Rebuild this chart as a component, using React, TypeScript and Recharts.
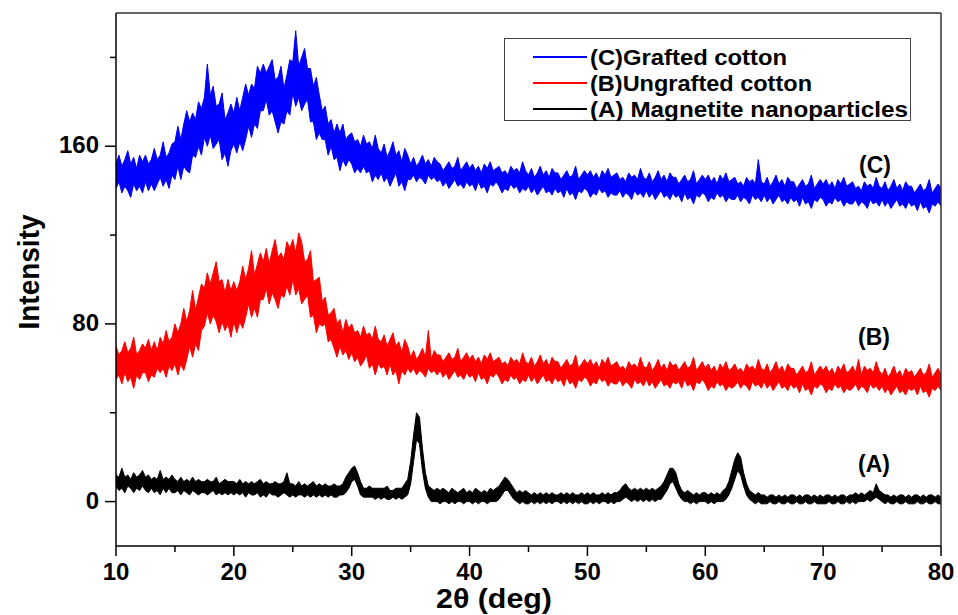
import React from 'react';
import { ComposedChart, Area, XAxis, YAxis, ReferenceLine, Legend, Customized } from 'recharts';

// 2θ sampling grid of the traces (deg)
const ANGLE_START = 10;
const ANGLE_STEP = 0.25;

// (C) Grafted cotton – upper / lower edge of the blue noise band
const graftedUpper = [
  152,156,151,154,158,152,155,150,156,153,
  156,152,154,159,154,156,162,155,157,161,
  162,169,163,170,176,171,175,172,180,177,
  182,197,183,187,178,179,184,172,175,179,
  175,182,176,182,188,183,188,186,196,193,
  197,193,196,199,190,191,196,186,192,199,
  198,212,196,200,204,195,195,187,191,183,
  176,178,170,172,166,170,166,170,163,165,
  166,162,163,160,165,161,162,159,165,159,
  157,161,155,158,162,156,158,153,159,156,
  152,155,151,153,156,152,154,151,155,153,
  152,149,151,153,150,151,155,149,151,153,
  150,152,149,151,148,152,150,153,149,150,
  151,148,149,147,151,149,150,148,153,149,
  147,150,146,148,151,147,149,146,150,148,
  148,145,147,149,146,147,151,145,147,149,
  147,149,146,148,145,149,147,150,146,147,
  148,145,146,144,148,146,147,145,150,146,
  145,148,144,146,149,145,147,144,148,146,
  146,143,145,147,144,145,149,143,145,147,
  145,147,144,146,143,147,145,148,144,145,
  146,143,144,142,146,144,145,143,154,144,
  143,146,142,144,147,143,145,142,146,144,
  144,141,143,145,142,143,147,141,143,145,
  143,145,142,144,141,145,143,146,142,143,
  144,141,142,140,144,142,143,141,146,142,
  141,144,140,142,145,141,143,140,144,142,
  142,139,141,143,140,141,145,139,141,143,
  141,
];
const graftedLower = [
  141,144,139,142,140,137,143,140,142,139,
  144,140,143,140,143,146,142,145,141,147,
  145,151,145,151,149,148,156,155,160,156,
  164,160,165,159,161,163,154,157,151,158,
  161,157,162,158,163,169,164,170,168,176,
  176,181,174,176,171,166,171,170,176,174,
  184,178,182,176,179,181,171,171,163,166,
  163,163,156,160,154,155,149,154,151,154,
  152,148,150,148,151,148,149,144,147,145,
  148,144,146,142,145,148,142,144,140,145,
  145,147,144,146,145,143,147,145,146,144,
  145,142,144,141,143,145,142,143,141,144,
  142,143,140,144,141,142,139,143,142,144,
  142,139,141,140,143,141,142,139,141,140,
  142,139,141,138,140,142,139,140,138,141,
  139,140,137,141,138,139,136,140,139,141,
  140,137,139,138,141,139,140,137,139,138,
  138,140,137,139,138,136,140,138,139,137,
  140,137,139,136,138,140,137,138,136,139,
  137,138,135,139,136,137,134,138,137,139,
  138,135,137,136,139,137,138,135,137,136,
  136,138,135,137,136,134,138,136,137,135,
  138,135,137,134,136,138,135,136,134,137,
  135,136,133,137,134,135,132,136,135,137,
  136,133,135,134,137,135,136,133,135,134,
  134,136,133,135,134,132,136,134,135,133,
  136,133,135,132,134,136,133,134,132,135,
  133,134,131,135,132,133,130,134,133,135,
  133,
];

// (B) Ungrafted cotton – upper / lower edge of the red noise band
const ungraftedUpper = [
  70,66,68,72,67,69,74,66,68,71,
  69,73,68,72,68,74,71,77,72,74,
  80,76,80,87,81,86,95,86,92,98,
  96,103,98,103,108,99,100,94,100,95,
  99,95,99,106,100,105,113,102,107,112,
  108,114,107,113,118,110,112,109,117,114,
  118,112,121,117,108,109,113,99,100,101,
  90,92,84,85,87,80,82,76,82,78,
  80,76,77,74,79,75,76,73,79,73,
  72,75,70,73,76,70,72,67,73,70,
  65,68,64,66,69,65,77,64,68,66,
  66,63,65,67,64,65,69,63,65,67,
  64,66,63,65,62,66,64,67,63,64,
  65,62,63,61,65,63,64,62,67,63,
  62,65,61,63,66,62,64,61,65,63,
  63,60,62,64,61,62,66,60,62,64,
  62,64,61,63,60,64,62,65,61,62,
  63,60,61,59,63,61,62,60,65,61,
  60,63,59,61,64,60,62,59,63,61,
  62,59,61,63,60,61,65,59,61,63,
  60,62,59,61,58,62,60,63,59,60,
  62,59,60,58,62,60,61,59,64,60,
  59,62,58,60,63,59,61,58,62,60,
  60,57,59,61,58,59,63,57,59,61,
  59,61,58,60,57,61,59,62,58,59,
  61,58,64,57,61,59,60,58,63,59,
  57,60,56,58,61,57,59,56,60,58,
  59,56,58,60,57,58,62,56,58,60,
  57,
];
const ungraftedLower = [
  55,57,53,58,54,56,51,57,55,58,
  58,54,57,56,60,58,60,56,61,59,
  62,57,62,59,64,70,65,71,68,77,
  79,85,80,84,81,76,81,77,80,74,
  81,76,81,78,83,89,83,87,83,91,
  91,96,89,94,91,87,93,92,97,93,
  100,93,96,89,91,93,83,84,76,80,
  79,80,72,73,69,65,70,66,68,64,
  67,63,65,61,63,66,60,62,57,62,
  60,61,57,62,57,59,53,59,57,60,
  58,60,57,59,58,56,60,58,59,57,
  59,56,58,55,57,59,56,57,55,58,
  56,57,54,58,55,56,53,57,56,58,
  56,53,55,54,57,55,56,53,55,54,
  57,54,56,53,55,57,54,55,53,56,
  54,55,52,56,53,54,51,55,54,56,
  55,52,54,53,56,54,55,52,54,53,
  53,55,52,54,53,51,55,53,54,52,
  55,52,54,51,53,55,52,53,51,54,
  53,54,51,55,52,53,50,54,53,55,
  53,50,52,51,54,52,53,50,52,51,
  52,54,51,53,52,50,54,52,53,51,
  54,51,53,50,52,54,51,52,50,53,
  51,52,49,53,50,51,48,52,51,53,
  52,49,51,50,53,51,52,49,51,50,
  51,53,50,52,51,49,53,51,52,50,
  52,49,51,48,50,52,49,50,48,51,
  50,51,48,52,49,50,47,51,50,52,
  50,
];

// (A) Magnetite nanoparticles – upper / lower edge of the black trace
const magnetiteUpper = [
  12,11,15,11,12,10,13,11,12,14,
  11,12,10,11,10,14,10,11,10,12,
  10,9,11,9,10,9,11,9,10,9,
  9,10,9,9,11,8,9,10,9,9,
  9,8,10,8,9,8,9,8,9,10,
  8,9,8,8,9,8,8,9,13,8,
  8,7,9,7,8,7,8,9,7,8,
  7,8,7,7,8,7,7,8,11,13,
  15,16,13,9,6,6,7,6,6,6,
  6,6,7,5,5,6,6,6,8,10,
  18,30,40,38,24,13,7,6,5,6,
  5,6,5,4,6,5,4,5,6,4,
  5,4,6,5,4,5,4,6,5,6,
  7,9,11,10,8,6,4,5,4,5,
  4,3,4,3,4,3,4,3,4,3,
  3,4,3,4,3,4,3,3,4,3,
  4,3,4,3,3,4,3,4,3,4,
  4,5,7,8,6,5,6,5,6,5,
  6,5,6,5,6,7,9,12,15,15,
  13,8,5,4,5,4,3,4,3,4,
  4,3,4,3,4,3,5,6,9,14,
  19,22,20,13,8,5,4,3,4,3,
  3,2,3,3,2,3,2,3,2,3,
  3,2,3,2,3,3,2,3,2,3,
  2,3,3,2,3,2,3,3,2,3,
  3,4,3,4,3,4,5,4,8,5,
  4,3,3,2,3,2,3,3,2,3,
  2,3,3,2,3,2,3,3,2,3,
  2,
];
const magnetiteLower = [
  7,5,6,4,7,6,4,6,5,7,
  5,4,6,4,5,3,6,4,6,4,
  4,5,3,5,4,3,5,4,3,4,
  4,3,4,5,3,4,3,4,3,4,
  3,4,3,4,2,4,3,3,4,2,
  3,2,4,3,3,2,3,4,3,2,
  3,2,3,3,2,3,2,3,2,3,
  2,3,2,3,2,2,3,3,4,6,
  9,10,7,3,2,2,2,2,1,2,
  1,2,1,1,2,1,2,1,2,3,
  8,18,28,26,14,6,2,0,0,0,
  -1,0,0,-1,0,-1,0,0,-1,0,
  0,-1,0,-1,0,0,-1,0,0,0,
  1,3,5,5,3,1,0,-1,0,-1,
  -1,0,-1,0,-1,0,-1,0,-1,0,
  0,-1,0,-1,0,-1,0,-1,0,-1,
  -1,0,-1,0,-1,0,0,-1,0,-1,
  0,0,1,2,1,0,1,0,1,0,
  1,0,1,0,1,1,3,5,8,9,
  6,3,1,0,0,-1,0,-1,0,0,
  0,-1,0,-1,0,0,0,1,3,6,
  10,14,12,7,3,1,0,-1,0,-1,
  -1,-1,0,-1,-1,0,-1,-1,0,-1,
  -1,0,-1,-1,0,-1,-1,0,-1,-1,
  -1,-1,0,-1,-1,0,-1,-1,0,-1,
  0,-1,0,0,0,1,0,1,2,1,
  0,-1,0,-1,-1,0,-1,-1,0,-1,
  -1,-1,0,-1,-1,0,-1,-1,0,-1,
  -1,
];

const xTicks = [10, 15, 20, 25, 30, 35, 40, 45, 50, 55, 60, 65, 70, 75, 80];
const xLabelled = [10, 20, 30, 40, 50, 60, 70, 80];
const yTicks = [0, 40, 80, 120, 160, 200];
const yLabelled = [0, 80, 160];

const seriesNames = ['(C)Grafted cotton', '(B)Ungrafted cotton', '(A) Magnetite nanoparticles'];
const seriesColors = ['#0000ff', '#ff0000', '#000000'];
const curveTags = ['(C)', '(B)', '(A)'];

const data = graftedUpper.map((_, i) => ({
  x: ANGLE_START + i * ANGLE_STEP,
  C: [graftedLower[i], graftedUpper[i]],
  B: [ungraftedLower[i], ungraftedUpper[i]],
  A: [magnetiteLower[i], magnetiteUpper[i]],
}));

const FONT = '"Liberation Sans", Arial, Helvetica, sans-serif';

const XTick = (props: any) => {
  const { x, y, payload } = props;
  const major = xLabelled.includes(payload.value);
  return (
    <g>
      <line x1={x} x2={x} y1={y} y2={y + (major ? 10 : 6)} stroke="#000" strokeWidth={1.5} />
      {major && (
        <text x={x} y={y + 34} textAnchor="middle" fontFamily={FONT} fontWeight="bold" fontSize={24} fill="#000">
          {payload.value}
        </text>
      )}
    </g>
  );
};

const YTick = (props: any) => {
  const { x, y, payload } = props;
  const major = yLabelled.includes(payload.value);
  return (
    <g>
      <line x1={x} x2={x - (major ? 11 : 6)} y1={y} y2={y} stroke="#000" strokeWidth={1.5} />
      {major && (
        <text x={x - 17} y={y + 7} textAnchor="end" fontFamily={FONT} fontWeight="bold" fontSize={24} fill="#000">
          {payload.value}
        </text>
      )}
    </g>
  );
};

const legendLengths = [197, 222, 318];

const LegendBox = () => (
  <svg width={407} height={83} style={{ display: 'block' }}>
    <rect x={0.5} y={0.5} width={406} height={82} fill="#fff" stroke="#444" strokeWidth={1} />
    {seriesNames.map((name, i) => {
      const ly = 19 + i * 26;
      return (
        <g key={name}>
          <rect x={29} y={ly - 1} width={54} height={2} fill={seriesColors[i]} />
          <text
            x={86}
            y={ly + 8}
            fontFamily={FONT}
            fontWeight="bold"
            fontSize={22}
            fill="#000"
            textLength={legendLengths[i]}
            lengthAdjust="spacingAndGlyphs"
          >
            {name}
          </text>
        </g>
      );
    })}
  </svg>
);

const Annotations = () => (
  <g>
    <text
      x={0}
      y={0}
      transform="translate(39,272) rotate(-90)"
      textAnchor="middle"
      fontFamily={FONT}
      fontWeight="bold"
      fontSize={30}
      fill="#000"
      textLength={115}
      lengthAdjust="spacingAndGlyphs"
    >
      Intensity
    </text>
    <text
      x={436}
      y={608}
      fontFamily={FONT}
      fontWeight="bold"
      fontSize={27}
      fill="#000"
      textLength={116}
      lengthAdjust="spacingAndGlyphs"
    >
      2θ (deg)
    </text>
    <text x={875} y={173} textAnchor="middle" fontFamily={FONT} fontWeight="bold" fontSize={23} fill="#000">
      {curveTags[0]}
    </text>
    <text x={874} y={345} textAnchor="middle" fontFamily={FONT} fontWeight="bold" fontSize={23} fill="#000">
      {curveTags[1]}
    </text>
    <text x={874} y={472} textAnchor="middle" fontFamily={FONT} fontWeight="bold" fontSize={23} fill="#000">
      {curveTags[2]}
    </text>
  </g>
);

export default function App() {
  return (
    <div style={{ position: 'absolute', left: 0, top: 0, width: 958, height: 615, background: '#fff' }}>
      <ComposedChart width={958} height={615} data={data} margin={{ top: 13, right: 17, left: 0, bottom: 9 }}>
        <XAxis
          dataKey="x"
          type="number"
          domain={[10, 80]}
          ticks={xTicks}
          interval={0}
          allowDataOverflow
          height={60}
          tickSize={0}
          tickMargin={0}
          tick={<XTick />}
          axisLine={{ stroke: '#000', strokeWidth: 1.5 }}
          tickLine={false}
        />
        <YAxis
          type="number"
          domain={[-20, 220]}
          ticks={yTicks}
          interval={0}
          allowDataOverflow
          width={116}
          tickSize={0}
          tickMargin={0}
          tick={<YTick />}
          axisLine={{ stroke: '#000', strokeWidth: 1.5 }}
          tickLine={false}
        />
        <ReferenceLine y={220} stroke="#333" strokeWidth={1.5} />
        <ReferenceLine x={80} stroke="#333" strokeWidth={1.5} />
        {(['C', 'B', 'A'] as const).map((key, i) => (
          <Area
            key={key}
            type="linear"
            dataKey={key}
            name={seriesNames[i]}
            stroke={seriesColors[i]}
            strokeWidth={1}
            fill={seriesColors[i]}
            fillOpacity={1}
            dot={false}
            activeDot={false}
            isAnimationActive={false}
          />
        ))}
        <Legend
          layout="horizontal"
          verticalAlign="middle"
          align="center"
          content={() => <LegendBox />}
          wrapperStyle={{ position: 'absolute', left: 504, top: 38, width: 407, height: 83 }}
        />
        <Customized component={Annotations} />
      </ComposedChart>
    </div>
  );
}
